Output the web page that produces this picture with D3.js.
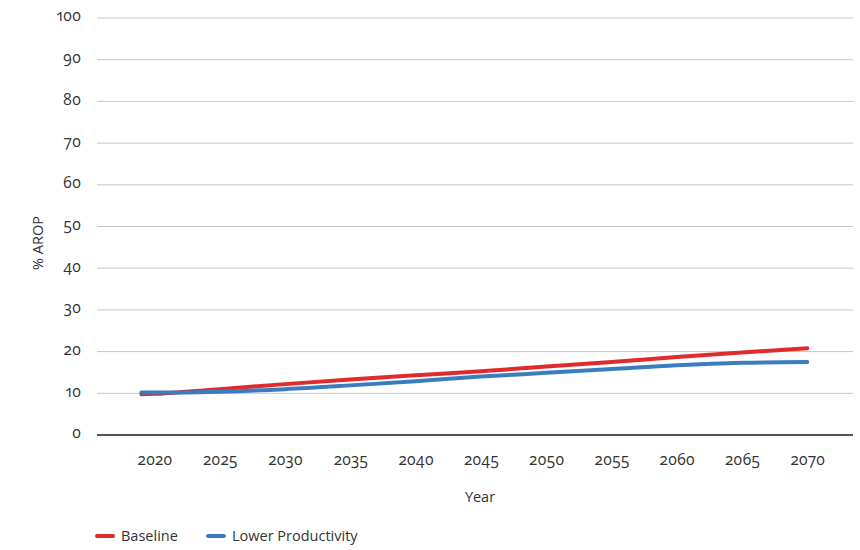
<!DOCTYPE html>
<html>
<head>
<meta charset="utf-8">
<script src="https://cdn.jsdelivr.net/npm/d3@7"></script>
<style>
  body { margin: 0; background: #fff; }
  svg text { font-family: "Open Sans", Lato, sans-serif; fill: #333; font-feature-settings: "onum" 1, "pnum" 1; font-variant-numeric: oldstyle-nums proportional-nums; }
</style>
</head>
<body>
<svg id="chart" width="860" height="550"></svg>
<script>
// Share at risk of poverty (% AROP) by scenario
const years = [2019, 2020, 2025, 2030, 2035, 2040, 2045, 2050, 2055, 2060, 2065, 2070];
const baseline = [9.8, 9.9, 11.0, 12.2, 13.3, 14.3, 15.3, 16.4, 17.5, 18.7, 19.8, 20.8];
const lowerProductivity = [10.2, 10.2, 10.4, 11.0, 11.9, 12.9, 14.0, 14.9, 15.8, 16.7, 17.3, 17.5];
const xTickLabels = [2020, 2025, 2030, 2035, 2040, 2045, 2050, 2055, 2060, 2065, 2070];
const yTicks = [0, 10, 20, 30, 40, 50, 60, 70, 80, 90, 100];
const seriesNames = ["Baseline", "Lower Productivity"];
const seriesColors = ["#e02a2b", "#3a7dbf"];

const svg = d3.select("#chart");
const plotLeft = 97, plotRight = 853, plotTop = 18, plotBottom = 435;

const x = d3.scaleLinear().domain([2015.6, 2073.5]).range([plotLeft, plotRight]);
const y = d3.scaleLinear().domain([0, 100]).range([plotBottom, plotTop]);

// gridlines
svg.append("g")
  .selectAll("line")
  .data(yTicks.filter(d => d > 0))
  .join("line")
  .attr("x1", plotLeft).attr("x2", plotRight)
  .attr("y1", d => y(d)).attr("y2", d => y(d))
  .attr("stroke", "#c6c6c6").attr("stroke-width", 1);

// y axis labels
const yAxis = svg.append("g")
  .attr("transform", `translate(${plotLeft},-2)`)
  .call(d3.axisLeft(y).tickValues(yTicks).tickSize(0).tickPadding(16));
yAxis.select(".domain").remove();
yAxis.selectAll("text").attr("font-size", 15.5).style("fill", "#333");

// x axis
const xAxis = svg.append("g")
  .attr("transform", `translate(0,${plotBottom})`)
  .call(d3.axisBottom(x).tickValues(xTickLabels).tickFormat(d3.format("d")).tickSize(0).tickPadding(19));
xAxis.select(".domain").remove();
xAxis.selectAll("text").attr("font-size", 15.5).style("fill", "#333");
svg.append("line")
  .attr("x1", plotLeft).attr("x2", plotRight)
  .attr("y1", plotBottom).attr("y2", plotBottom)
  .attr("stroke", "#1a1a1a").attr("stroke-width", 1.5);

// axis titles
svg.append("text")
  .attr("transform", `translate(43,243) rotate(-90)`)
  .attr("text-anchor", "middle")
  .attr("font-size", 14.5)
  .text("% AROP");
svg.append("text")
  .attr("x", 480).attr("y", 502)
  .attr("text-anchor", "middle")
  .attr("font-size", 14.5)
  .text("Year");

// lines
const line = d3.line()
  .x((d, i) => x(years[i]))
  .y(d => y(d))
  .curve(d3.curveMonotoneX);

[baseline, lowerProductivity].forEach((vals, k) => {
  svg.append("path")
    .datum(vals)
    .attr("fill", "none")
    .attr("stroke", seriesColors[k])
    .attr("stroke-width", 4)
    .attr("stroke-linecap", "round")
    .attr("d", line);
});

// legend
const legendX = [97, 208];
seriesNames.forEach((name, k) => {
  const g = svg.append("g").attr("transform", `translate(${legendX[k]},536)`);
  g.append("line")
    .attr("x1", 0).attr("x2", 16).attr("y1", 0).attr("y2", 0)
    .attr("stroke", seriesColors[k]).attr("stroke-width", 4)
    .attr("stroke-linecap", "round");
  g.append("text")
    .attr("x", 24).attr("y", 5)
    .attr("font-size", 14.5)
    .text(name);
});
</script>
</body>
</html>
